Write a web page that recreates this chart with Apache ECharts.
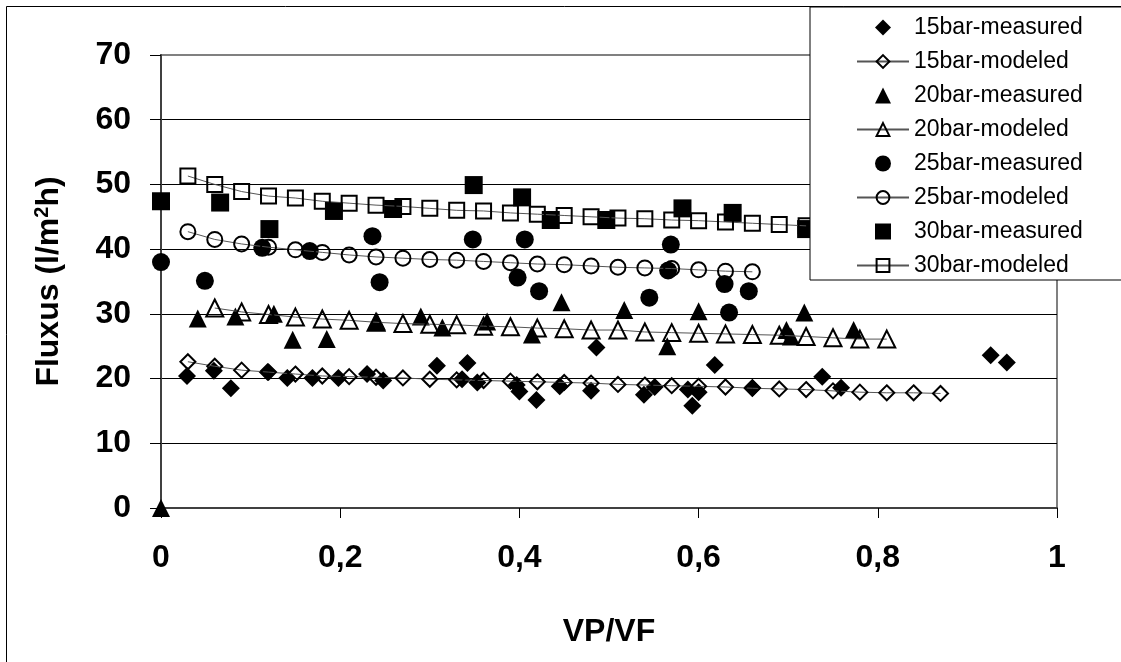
<!DOCTYPE html>
<html>
<head>
<meta charset="utf-8">
<script src="https://cdn.jsdelivr.net/npm/echarts@6/dist/echarts.min.js"></script>
<style>
  html, body { margin: 0; padding: 0; background: #fff; }
  #chart { width: 1121px; height: 662px; }
</style>
</head>
<body>
<div id="chart"></div>
<script>
// measured / modeled flux vs. VP/VF
var x15meas = [0.029, 0.059, 0.078, 0.119, 0.141, 0.169, 0.198, 0.23, 0.248, 0.308, 0.336, 0.342, 0.353, 0.397, 0.40, 0.419, 0.445, 0.48, 0.486, 0.539, 0.551, 0.588, 0.593, 0.60, 0.618, 0.66, 0.738, 0.759, 0.926, 0.944];
var y15meas = [20.4, 21.2, 18.5, 21.0, 20.1, 20.1, 20.1, 20.7, 19.7, 22.0, 19.9, 22.4, 19.4, 19.0, 18.0, 16.7, 18.8, 18.1, 24.8, 17.5, 18.7, 18.3, 15.8, 17.9, 22.1, 18.6, 20.3, 18.6, 23.6, 22.5];

var x15mod = [0.03, 0.06, 0.09, 0.12, 0.15, 0.18, 0.21, 0.24, 0.27, 0.30, 0.33, 0.36, 0.39, 0.42, 0.45, 0.48, 0.51, 0.54, 0.57, 0.60, 0.63, 0.66, 0.69, 0.72, 0.75, 0.78, 0.81, 0.84, 0.87];
var y15mod = [22.6, 21.9, 21.3, 21.0, 20.7, 20.4, 20.3, 20.2, 20.1, 19.9, 19.8, 19.7, 19.6, 19.5, 19.4, 19.3, 19.1, 19.0, 18.9, 18.8, 18.7, 18.5, 18.4, 18.3, 18.1, 17.9, 17.8, 17.8, 17.7];

var x20meas = [0, 0.041, 0.083, 0.126, 0.147, 0.185, 0.241, 0.29, 0.314, 0.364, 0.414, 0.447, 0.517, 0.565, 0.60, 0.698, 0.703, 0.718, 0.773];
var y20meas = [0, 29.3, 29.6, 30.0, 26.0, 26.1, 28.8, 29.6, 27.9, 28.8, 26.8, 31.8, 30.6, 25.0, 30.4, 27.5, 26.5, 30.2, 27.5];

var x20mod = [0.06, 0.09, 0.12, 0.15, 0.18, 0.21, 0.24, 0.27, 0.30, 0.33, 0.36, 0.39, 0.42, 0.45, 0.48, 0.51, 0.54, 0.57, 0.60, 0.63, 0.66, 0.69, 0.72, 0.75, 0.78, 0.81];
var y20mod = [30.9, 30.3, 29.9, 29.5, 29.2, 29.0, 28.7, 28.5, 28.4, 28.3, 28.1, 28.0, 27.8, 27.7, 27.5, 27.5, 27.2, 27.1, 27.0, 26.9, 26.8, 26.7, 26.5, 26.3, 26.1, 26.1];

var x25meas = [0, 0.049, 0.113, 0.166, 0.236, 0.244, 0.348, 0.398, 0.406, 0.422, 0.545, 0.566, 0.569, 0.629, 0.634, 0.656];
var y25meas = [38.0, 35.1, 40.2, 39.7, 42.0, 34.9, 41.5, 35.6, 41.5, 33.5, 32.5, 36.7, 40.7, 34.6, 30.2, 33.5];

var x25mod = [0.03, 0.06, 0.09, 0.12, 0.15, 0.18, 0.21, 0.24, 0.27, 0.30, 0.33, 0.36, 0.39, 0.42, 0.45, 0.48, 0.51, 0.54, 0.57, 0.60, 0.63, 0.66];
var y25mod = [42.7, 41.5, 40.8, 40.3, 39.9, 39.5, 39.1, 38.8, 38.6, 38.4, 38.3, 38.1, 37.9, 37.7, 37.6, 37.4, 37.2, 37.1, 37.0, 36.8, 36.6, 36.5];

var x30meas = [0, 0.066, 0.121, 0.193, 0.259, 0.349, 0.403, 0.435, 0.497, 0.582, 0.638, 0.72];
var y30meas = [47.4, 47.2, 43.1, 45.9, 46.2, 49.9, 48.0, 44.5, 44.5, 46.3, 45.6, 43.1];

var x30mod = [0.03, 0.06, 0.09, 0.12, 0.15, 0.18, 0.21, 0.24, 0.27, 0.30, 0.33, 0.36, 0.39, 0.42, 0.45, 0.48, 0.51, 0.54, 0.57, 0.60, 0.63, 0.66, 0.69, 0.72];
var y30mod = [51.3, 50.0, 48.9, 48.2, 47.9, 47.4, 47.1, 46.8, 46.6, 46.3, 46.0, 45.9, 45.6, 45.4, 45.2, 45.0, 44.8, 44.7, 44.5, 44.4, 44.2, 44.0, 43.8, 43.6];

var xTicks = ['0', '0,2', '0,4', '0,6', '0,8', '1'];

function zip(xs, ys) {
    var out = [];
    for (var i = 0; i < xs.length; i++) out.push([xs[i], ys[i]]);
    return out;
}

function measured(name, symbol, xs, ys) {
    return {
        name: name, type: 'scatter', symbol: symbol, symbolSize: 18,
        itemStyle: { color: '#000', opacity: 1 },
        data: zip(xs, ys)
    };
}

function modeled(name, symbol, xs, ys) {
    return {
        name: name, type: 'line', symbol: symbol,
        symbolSize: symbol === 'triangle' ? 17 : 15, showSymbol: true,
        lineStyle: { color: '#555', width: 1 },
        itemStyle: { color: 'rgba(255,255,255,0)', borderColor: '#000', borderWidth: 2 },
        data: zip(xs, ys)
    };
}

// keep-aspect legend icons for the measured series
var iconDiamond = 'path://M8,0L16,8L8,16L0,8Z';
var iconTriangle = 'path://M8,0L16,16L0,16Z';
var iconSquare = 'path://M0,0L16,0L16,16L0,16Z';

var font = 'Liberation Sans, Arial, sans-serif';
var chart = echarts.init(document.getElementById('chart'));

var option = {
    animation: false,
    backgroundColor: '#fff',
    graphic: [{
        type: 'rect', z: 100, silent: true,
        shape: { x: 6.5, y: 6.5, width: 1300, height: 800 },
        style: { fill: 'none', stroke: '#000', lineWidth: 1 }
    }],
    grid: {
        left: 161, top: 55, right: 64, bottom: 154,
        show: true, borderColor: '#808080', borderWidth: 2
    },
    legend: {
        orient: 'vertical', left: 810, top: 7,
        padding: [9, 60, 3, 46],
        itemWidth: 52, itemHeight: 16, itemGap: 11,
        symbolKeepAspect: true,
        backgroundColor: '#fff', borderColor: '#000', borderWidth: 1,
        textStyle: { fontFamily: font, fontSize: 23, color: '#000' },
        data: [
            { name: '15bar-measured', icon: iconDiamond },
            '15bar-modeled',
            { name: '20bar-measured', icon: iconTriangle },
            '20bar-modeled',
            { name: '25bar-measured', icon: 'circle' },
            '25bar-modeled',
            { name: '30bar-measured', icon: iconSquare },
            '30bar-modeled'
        ]
    },
    xAxis: {
        type: 'value', min: 0, max: 1, interval: 0.2,
        name: 'VP/VF', nameLocation: 'middle', nameGap: 108,
        nameTextStyle: { fontFamily: font, fontSize: 32, fontWeight: 'bold', color: '#000' },
        axisLine: { show: true, lineStyle: { color: '#404040', width: 2 } },
        axisTick: { show: true, inside: false, length: 10, lineStyle: { color: '#000', width: 1 } },
        axisLabel: {
            margin: 34, fontFamily: font, fontSize: 32, fontWeight: 'bold', color: '#000',
            formatter: function (v) { return xTicks[Math.round(v * 5)]; }
        },
        splitLine: { show: false }
    },
    yAxis: {
        type: 'value', min: 0, max: 70, interval: 10,
        name: '{a|Fluxus (l/m}{s|2}{a|h)}', nameLocation: 'middle', nameGap: 95, nameRotate: 90,
        nameTextStyle: {
            rich: {
                a: { fontFamily: font, fontSize: 32, fontWeight: 'bold', color: '#000' },
                s: { fontFamily: font, fontSize: 20, fontWeight: 'bold', color: '#000', padding: [0, 0, 14, 0] }
            }
        },
        axisLine: { show: true, lineStyle: { color: '#404040', width: 2 } },
        axisTick: { show: true, inside: false, length: 11, lineStyle: { color: '#000', width: 1 } },
        axisLabel: { margin: 30, fontFamily: font, fontSize: 32, fontWeight: 'bold', color: '#000' },
        splitLine: {
            show: true,
            lineStyle: { color: ['#000', '#000', '#000', '#000', '#000', '#000', '#000', '#808080'], width: 1 }
        }
    },
    series: [
        measured('15bar-measured', 'diamond', x15meas, y15meas),
        modeled('15bar-modeled', 'diamond', x15mod, y15mod),
        measured('20bar-measured', 'triangle', x20meas, y20meas),
        modeled('20bar-modeled', 'triangle', x20mod, y20mod),
        measured('25bar-measured', 'circle', x25meas, y25meas),
        modeled('25bar-modeled', 'circle', x25mod, y25mod),
        measured('30bar-measured', 'rect', x30meas, y30meas),
        modeled('30bar-modeled', 'rect', x30mod, y30mod)
    ]
};
chart.setOption(option);
</script>
</body>
</html>
